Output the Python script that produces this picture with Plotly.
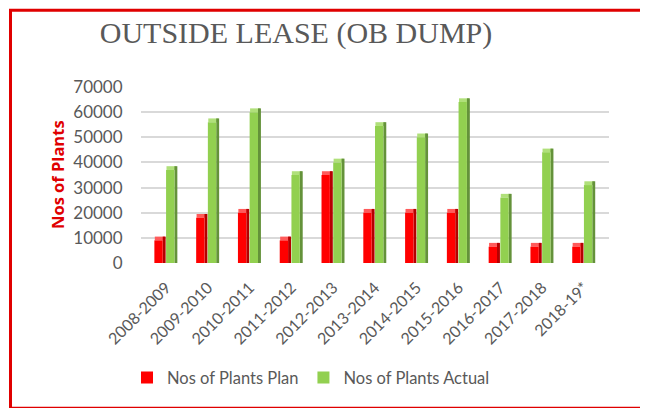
"""Outside lease (OB dump) plantation chart"""

import plotly.graph_objects as go

seasons = ['2008-2009', '2009-2010', '2010-2011', '2011-2012', '2012-2013',
           '2013-2014', '2014-2015', '2015-2016', '2016-2017', '2017-2018',
           '2018-19*']
plan = [9000, 18000, 20000, 9000, 35000, 20000, 20000, 20000, 6500, 6500, 6500]
actual = [37000, 56000, 60000, 35000, 40000, 54500, 50000, 64000, 26000, 44000, 31000]
y_ticks = [0, 10000, 20000, 30000, 40000, 50000, 60000, 70000]

# fake 3D depth of the bars (in data units)
DEPTH = 1500

xs = list(range(len(seasons)))
GREY = '#595959'

# the page body has an 8px margin, so the figure is drawn 8px smaller
PAGE = 8
FIG_W, FIG_H = 648 - PAGE, 408 - PAGE

# plot area in screen pixels, used to place the frame and labels
L, R, T, B = 141, 609, 87, 265
W, H = R - L, B - T


def px_x(p):
    return (p - L) / W


def px_y(p):
    return (B - p) / H


def bar_3d(values, name, front, side, top, start):
    """front face, darker side face and lighter top cap"""
    return [
        go.Bar(x=xs, y=[DEPTH] * len(values), base=values, offset=start + 0.01,
               width=0.24, marker=dict(color=top, line_width=0),
               showlegend=False, hoverinfo='skip'),
        go.Bar(x=xs, y=[v + DEPTH for v in values], offset=start + 0.20,
               width=0.07, marker=dict(color=side, line_width=0),
               showlegend=False, hoverinfo='skip'),
        go.Bar(x=xs, y=values, offset=start, width=0.20, name=name,
               marker=dict(color=front, line_width=0),
               hovertemplate='%{y}<extra>' + name + '</extra>'),
    ]


fig = go.Figure()
for tr in bar_3d(plan, 'Nos of Plants Plan', '#FF0000', '#B50000', '#FF5A5A', -0.28):
    fig.add_trace(tr)
for tr in bar_3d(actual, 'Nos of Plants Actual', '#92D050', '#64923A', '#B0E07A', 0.0):
    fig.add_trace(tr)

fig.update_layout(
    barmode='overlay',
    width=FIG_W,
    height=FIG_H,
    margin=dict(l=L - PAGE, r=648 - R, t=T - PAGE, b=408 - B),
    plot_bgcolor='white',
    paper_bgcolor='white',
    font=dict(family='Lato', color=GREY),
    title=dict(
        text='OUTSIDE LEASE (OB DUMP)',
        font=dict(family='Liberation Serif', size=30, color=GREY),
        x=(296 - PAGE) / FIG_W, xanchor='center',
        y=1 - (32 - PAGE) / FIG_H, yanchor='middle',
    ),
    legend=dict(
        orientation='h',
        x=px_x(311), xanchor='center',
        y=px_y(381), yanchor='middle',
        font=dict(size=16.5, color=GREY),
        traceorder='normal',
    ),
)

fig.update_xaxes(
    range=[-0.6, 10.6],
    tickvals=xs,
    ticktext=seasons,
    tickangle=-45,
    showgrid=False,
    zeroline=False,
    ticks='outside', ticklen=8, tickcolor='rgba(0,0,0,0)',
    tickfont=dict(size=16, color=GREY),
)
fig.update_yaxes(
    range=[0, 70000],
    tickvals=y_ticks,
    tickformat='d',
    showgrid=True, gridcolor='#D9D9D9', gridwidth=2,
    zeroline=False,
    ticks='outside', ticklen=14, tickcolor='rgba(0,0,0,0)',
    tickfont=dict(size=17, color=GREY),
)

# y axis title
fig.add_annotation(
    text='<b>Nos of Plants</b>',
    xref='paper', yref='paper',
    x=px_x(57), y=0.5,
    xanchor='center', yanchor='middle',
    textangle=-90,
    showarrow=False,
    font=dict(family='Open Sans', size=16.5, color='#E00000'),
)

# red frame round the chart
fig.add_shape(
    type='rect', xref='paper', yref='paper',
    x0=px_x(10.5), x1=px_x(645), y0=px_y(412), y1=px_y(9.5),
    line=dict(color='#E00000', width=3),
)

fig.write_html("out.html")
